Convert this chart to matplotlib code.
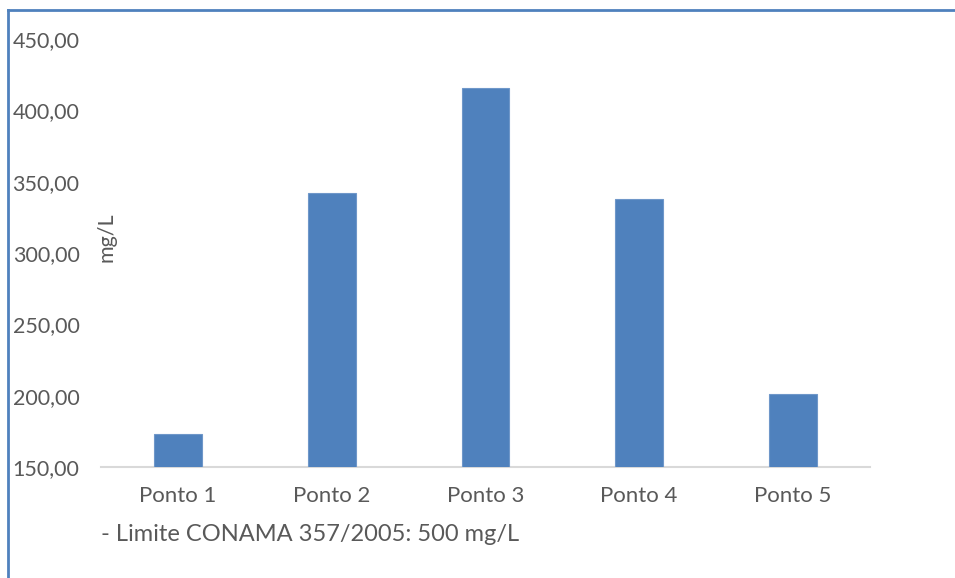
import numpy as np
import matplotlib.pyplot as plt
from matplotlib.lines import Line2D

# sólidos totais dissolvidos por ponto de coleta
pontos = ["Ponto 1", "Ponto 2", "Ponto 3", "Ponto 4", "Ponto 5"]
valores = [173.0, 342.0, 415.5, 338.0, 201.0]
y_ticks = [150, 200, 250, 300, 350, 400, 450]
nota = "- Limite CONAMA 357/2005: 500 mg/L"

azul = "#4F81BD"
cinza_txt = "#595959"

plt.rcParams["font.family"] = ["Lato", "DejaVu Sans"]

fig = plt.figure(figsize=(9.55, 5.78), dpi=100)
ax = fig.add_axes([0.1058, 0.192, 0.805, 0.7405])

x = np.arange(len(pontos))
ax.bar(x, valores, width=0.31, color=azul, edgecolor="#6F97C9", linewidth=0.8, zorder=3)

ax.set_xlim(-0.5, len(pontos) - 0.5)
ax.set_ylim(150, 450)
ax.set_yticks(y_ticks)
ax.set_yticklabels([f"{v:.2f}".replace(".", ",") for v in y_ticks])
ax.set_xticks(x)
ax.set_xticklabels(pontos)

for s in ["top", "right", "left"]:
    ax.spines[s].set_visible(False)
ax.spines["bottom"].set_color("#D9D9D9")
ax.spines["bottom"].set_linewidth(1.5)

ax.tick_params(axis="y", length=0, pad=15.5, labelsize=15.5, labelcolor=cinza_txt)
ax.tick_params(axis="x", length=0, pad=14, labelsize=16, labelcolor=cinza_txt)

fig.text(0.112, 0.59, "mg/L", rotation=90, ha="center", va="center",
         fontsize=15.5, color=cinza_txt)
fig.text(0.106, 0.075, nota, ha="left", va="center", fontsize=17, color=cinza_txt)

# moldura azul (topo e esquerda)
fig.add_artist(Line2D([0.0085, 1.0], [0.983, 0.983], transform=fig.transFigure,
                      color=azul, linewidth=2))
fig.add_artist(Line2D([0.0085, 0.0085], [0.0, 0.983], transform=fig.transFigure,
                      color=azul, linewidth=2))

fig.savefig("out.png", dpi=100, facecolor="white")
